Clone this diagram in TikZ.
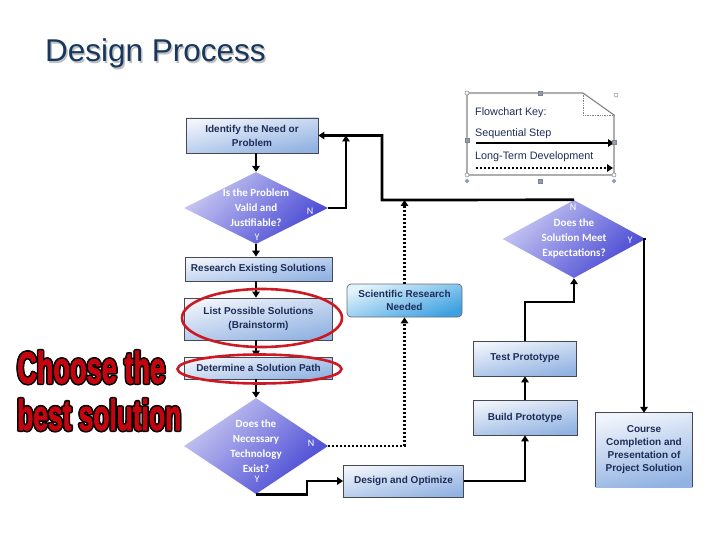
\documentclass[tikz,border=0pt]{standalone}
\usepackage{fontspec}
\setmainfont{Liberation Sans}
\newfontfamily\carlito{Carlito}
\newfontfamily\heavy{Liberation Sans}[BoldFeatures={FakeBold=2.5}]
\usetikzlibrary{arrows.meta,shapes.geometric}
\definecolor{navy}{RGB}{30,45,88}
\definecolor{titlecol}{RGB}{23,55,94}
\definecolor{boxtop}{RGB}{240,244,251}
\definecolor{boxbot}{RGB}{145,178,226}
\definecolor{boxline}{RGB}{70,72,82}
\definecolor{dialight}{RGB}{200,200,242}
\definecolor{diadark}{RGB}{70,70,212}
\definecolor{scitop}{RGB}{226,243,252}
\definecolor{scibot}{RGB}{60,160,225}
\definecolor{ringred}{RGB}{205,25,35}
\definecolor{chred}{RGB}{195,5,15}
\definecolor{keygray}{RGB}{130,130,135}
\definecolor{handle}{RGB}{140,158,188}
\newcommand\oltext[3]{%
  \sbox0{\resizebox{#1}{#2}{\color{black}#3}}%
  \sbox2{\resizebox{#1}{#2}{\color{chred}#3}}%
  \def\olshift##1##2{\rlap{\kern##1\raisebox{##2}{\usebox0}}}%
  \olshift{-1.6pt}{0pt}\olshift{1.6pt}{0pt}\olshift{0pt}{1.6pt}\olshift{0pt}{-1.6pt}%
  \olshift{-1.15pt}{1.15pt}\olshift{1.15pt}{1.15pt}\olshift{-1.15pt}{-1.15pt}\olshift{1.15pt}{-1.15pt}%
  \usebox2}
\tikzset{
  flowbox/.style={rectangle, draw=boxline, line width=0.7pt, top color=boxtop, bottom color=boxbot, shading angle=12,
    text=navy, align=center, inner sep=1pt, font=\bfseries\fontsize{10}{14}\selectfont},
  dia/.style={diamond, top color=dialight, bottom color=diadark, shading angle=45, inner sep=-8pt,
    text=white, align=center, font=\carlito\bfseries\fontsize{11}{15}\selectfont},
  yn/.style={text=white, inner sep=0pt, font=\carlito\fontsize{10}{10}\selectfont},
  arr/.style={line width=2.7pt, -{Triangle[length=6pt,width=7.5pt]}},
  dotarr/.style={line width=2.7pt, dash pattern=on 2pt off 2pt, -{Triangle[length=6pt,width=7.5pt]}},
  ring/.style={draw=ringred, line width=2.6pt},
  keytext/.style={anchor=base west, inner sep=0pt, text=navy, font=\fontsize{10.8}{12}\selectfont},
}
\begin{document}
\begin{tikzpicture}[x=1pt,y=-1pt]
\useasboundingbox (0,0) rectangle (720,540);
% title
\node[anchor=base west, inner sep=0pt, text=black!25, font=\fontsize{31.5}{36}\selectfont] (titleshadow) at (46.5,63.5) {Design Process};
\node[anchor=base west, inner sep=0pt, text=titlecol, font=\fontsize{31.5}{36}\selectfont] (title) at (45,62) {Design Process};

% left column
\node[flowbox, minimum width=132pt, minimum height=35pt] (idn) at (252,135.5) {Identify the Need or\\Problem};
\node[dia, minimum width=144pt, minimum height=70pt] (d1) at (256,208) {Is the Problem\\Valid and\\Justifiable?};
\node[yn] (d1n) at (310,211) {N};
\node[yn] (d1y) at (257,237) {Y};
\node[flowbox, minimum width=147pt, minimum height=24pt] (res) at (258.5,269) {Research Existing Solutions};
\node[flowbox, minimum width=148pt, minimum height=42pt] (lps) at (258.5,319) {List Possible Solutions\\(Brainstorm)};
\node[flowbox, minimum width=148pt, minimum height=22pt] (dsp) at (258.5,368) {Determine a Solution Path};
\node[dia, minimum width=144pt, minimum height=96pt] (d3) at (256,446) {Does the\\Necessary\\Technology\\Exist?};
\node[yn] (d3n) at (311,443) {N};
\node[yn] (d3y) at (257,479) {Y};

% middle / right
\node[rectangle, rounded corners=4pt, draw=boxline!80, line width=0.7pt, top color=scitop, bottom color=scibot, shading angle=20,
  text=navy, align=center, minimum width=115pt, minimum height=33pt, font=\bfseries\fontsize{10}{13}\selectfont] (sci) at (404.5,300.5) {Scientific Research\\Needed};
\node[flowbox, minimum width=120pt, minimum height=32pt] (dao) at (403.5,481) {Design and Optimize};
\node[flowbox, minimum width=103pt, minimum height=35pt] (tp) at (525,358.5) {Test Prototype};
\node[flowbox, minimum width=104pt, minimum height=35pt] (bp) at (525,417.5) {Build Prototype};
\node[dia, minimum width=143pt, minimum height=78pt] (d2) at (574,239) {Does the\\Solution Meet\\Expectations?};
\node[yn] (d2n) at (573,207) {N};
\node[yn] (d2y) at (630,240) {Y};
\node[rectangle, top color=boxtop, bottom color=boxbot, shading angle=12, text=navy, align=center,
  minimum width=97pt, minimum height=74pt, inner sep=1pt, font=\bfseries\fontsize{10}{13}\selectfont] (ccp) at (644,450)
  {Course\\Completion and\\Presentation of\\Project Solution};
\draw[boxline, line width=0.7pt] (ccp.south west) -- (ccp.north west) -- (ccp.north east) -- (ccp.south east);

% connector joints
\coordinate (j1) at (346,135.5);
\coordinate (j2) at (382,200);
\coordinate (j3) at (404.5,200);
\coordinate (j4) at (307,481);
\coordinate (j5) at (574,302);

% connectors
\draw[arr] (idn.south -| d1.north) -- (d1.north);
\draw[arr] (d1.south) -- (d1.south |- res.north);
\draw[arr] (res.south -| d1.south) -- (lps.north -| d1.south);
\draw[arr] (lps.south -| d1.south) -- (dsp.north -| d1.south);
\draw[arr] (dsp.south -| d3.north) -- (d3.north);
\draw[arr] (d1.east) -| (j1);
\draw[arr] (d2.north) -- (j2) |- (idn.east);
\draw[dotarr] (sci.north) -- (j3);
\draw[dotarr] (d3.east) -| (sci.south);
\draw[arr] (d3.south) -| (j4) -- (dao.west);
\draw[arr] (dao.east) -| (bp.south);
\draw[arr] (bp.north) -- (tp.south);
\draw[arr] (tp.north) |- (j5) -- (d2.south);
\draw[arr] (d2.east) -| (ccp.north);

% red rings
\draw[ring] (262,318) ellipse [x radius=80pt, y radius=29pt];
\draw[ring] (259.5,369) ellipse [x radius=82pt, y radius=14.5pt];

% choose the best solution
\node[anchor=base west, inner sep=0pt] (choose1) at (17,383) {\oltext{148pt}{32pt}{\heavy\bfseries Choose the}};
\node[anchor=base west, inner sep=0pt] (choose2) at (17,430) {\oltext{164pt}{31pt}{\heavy\bfseries best solution}};

% flowchart key
\draw[keygray, line width=1.1pt] (467,93) -- (583,93) -- (614,115) -- (614,175) -- (467,175) -- cycle;
\draw[keygray, line width=0.7pt, densely dotted] (583,93) -- (583,115) -- (614,115);
\node[keytext] (k1) at (475,116) {Flowchart Key:};
\node[keytext] (k2) at (475,137) {Sequential Step};
\node[keytext] (k3) at (475,160) {Long-Term Development};
\coordinate (ka) at (476,143);
\coordinate (kb) at (614,143);
\coordinate (kc) at (476,168);
\coordinate (kd) at (613,168);
\draw[line width=2.4pt, -{Triangle[length=6pt,width=7.5pt]}] (ka) -- (kb);
\draw[line width=2.4pt, dash pattern=on 2pt off 2pt, -{Triangle[length=6pt,width=7.5pt]}] (kc) -- (kd);
% selection handles
\foreach \p in {(467,93),(616,95),(467,175),(614,175)}
  \draw[keygray, fill=white, line width=0.5pt] \p circle (2pt);
\foreach \p in {(540,93),(467,140),(614,142),(540,181)}
  \draw[keygray, fill=handle, line width=0.4pt] \p ++(-2.2,-2.2) rectangle ++(4.4,4.4);
\foreach \p in {(467,181),(614,181)}
  \fill[handle] \p ++(-2.4,0) -- ++(2.4,-2.4) -- ++(2.4,2.4) -- ++(-2.4,2.4) -- cycle;
\end{tikzpicture}
\end{document}
